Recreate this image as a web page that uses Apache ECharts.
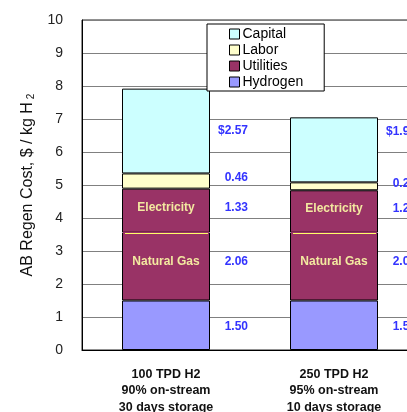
<!DOCTYPE html>
<html>
<head>
<meta charset="utf-8">
<script src="https://cdn.jsdelivr.net/npm/echarts@6/dist/echarts.min.js"></script>
<style>html,body{margin:0;padding:0;background:#fff;overflow:hidden}#chart{width:407px;height:412px}</style>
</head>
<body>
<div id="chart"></div>
<script>
// data
var categories=['100 TPD H2\n90% on-stream\n30 days storage','250 TPD H2\n95% on-stream\n10 days storage'];
var hydrogen=[1.50,1.50];
var naturalGas=[2.06,2.06];
var electricity=[1.33,1.28];
var labor=[0.46,0.24];
var capital=[2.57,1.97];
var legendNames=['Capital','Labor','Utilities','Hydrogen'];

var FONT='Arial, "Liberation Sans", sans-serif';
var BAR_W=88;

function valueLabel(prefix,dy){
	return {
		show:true,
		position:'right',
		distance:38,
		align:'right',
		offset:[0,dy],
		color:'#3333ff',
		fontWeight:'bold',
		fontSize:12,
		fontFamily:FONT,
		formatter:function(p){ return prefix+p.value.toFixed(2); }
	};
}

function barSeries(name,data,color,prefix,dy){
	return {
		name:name,
		type:'bar',
		stack:'cost',
		barWidth:BAR_W,
		data:data,
		itemStyle:{color:color,borderColor:'#000',borderWidth:1},
		label:valueLabel(prefix||'',dy||0),
		emphasis:{disabled:true}
	};
}

var capSeries=barSeries('Capital',capital,'#ccffff','$',0);
// 2nd capital label sits higher in the original
capSeries.data=capital.map(function(v,i){
	return i==1 ? {value:v,label:{offset:[0,-18]}} : v;
});

var chart=echarts.init(document.getElementById('chart'));
chart.setOption({
	animation:false,
	backgroundColor:'#fff',
	// grid runs past the right edge like the original (cut off)
	grid:{left:82,top:20,width:336,height:330,outerBoundsMode:'none',containLabel:false,show:true,borderColor:'#222',borderWidth:1},
	legend:{
		data:legendNames,
		orient:'vertical',
		left:207,top:24,
		padding:[3,21,2,22],
		itemGap:2,
		itemWidth:10,itemHeight:10,
		icon:'rect',
		backgroundColor:'#fff',
		borderColor:'#000',borderWidth:1,
		itemStyle:{borderColor:'#000',borderWidth:1},
		textStyle:{fontSize:14,color:'#000',fontFamily:FONT,lineHeight:13,padding:[0,0,0,-2]},
		selectedMode:false
	},
	xAxis:{
		type:'category',
		data:categories,
		axisLine:{lineStyle:{color:'#000',width:1}},
		axisTick:{show:false},
		axisLabel:{color:'#111',fontSize:12.5,fontWeight:'bold',fontFamily:FONT,lineHeight:16.5,margin:16}
	},
	yAxis:{
		type:'value',
		min:0,max:10,interval:1,
		name:'AB Regen Cost, $ / kg H{sub|2}',
		nameLocation:'middle',
		nameGap:40,
		nameTextStyle:{
			color:'#111',fontSize:16,fontFamily:FONT,lineHeight:18,
			rich:{sub:{fontSize:10,fontFamily:FONT,color:'#111',verticalAlign:'bottom',lineHeight:12,padding:[8,0,0,3]}}
		},
		axisLine:{show:true,lineStyle:{color:'#000',width:1}},
		axisTick:{show:false},
		axisLabel:{color:'#222',fontSize:14,fontFamily:FONT,margin:19},
		splitLine:{lineStyle:{color:'#808080',width:1}}
	},
	series:[
		barSeries('Hydrogen',hydrogen,'#9999ff','',1),
		barSeries('Natural Gas',naturalGas,'#993366','',-5),
		barSeries('Utilities',electricity,'#993366','',-3),
		barSeries('Labor',labor,'#ffffcc','',-3),
		capSeries,
		{
			name:'divider',
			type:'custom',
			silent:true,
			z:5,
			encode:{x:0,y:1},
			data:categories.map(function(c,i){ return [i,hydrogen[i],naturalGas[i],electricity[i]]; }),
			renderItem:function(params,api){
				var i=api.value(0),h=api.value(1),ng=api.value(2),el=api.value(3);
				var pb=api.coord([i,h+ng]);
				var pn=api.coord([i,h+ng/2]);
				var pe=api.coord([i,h+ng+el/2]);
				var y=Math.round(pb[1])+0.5;
				return {
					type:'group',
					children:[
						{type:'rect',shape:{x:pb[0]-BAR_W/2+1,y:y-2,width:BAR_W-2,height:4},style:{fill:'#993366'}},
						{type:'line',shape:{x1:pb[0]-BAR_W/2+3,y1:y,x2:pb[0]+BAR_W/2-2,y2:y},style:{stroke:'#ffff66',lineWidth:1}},
						{type:'text',x:pe[0],y:pe[1]-3,style:{text:'Electricity',fill:'#f3e9a0',font:'bold 12px '+FONT,align:'center',verticalAlign:'middle'}},
						{type:'text',x:pn[0],y:pn[1]-5,style:{text:'Natural Gas',fill:'#f3e9a0',font:'bold 12px '+FONT,align:'center',verticalAlign:'middle'}}
					]
				};
			}
		}
	]
});
</script>
</body>
</html>
